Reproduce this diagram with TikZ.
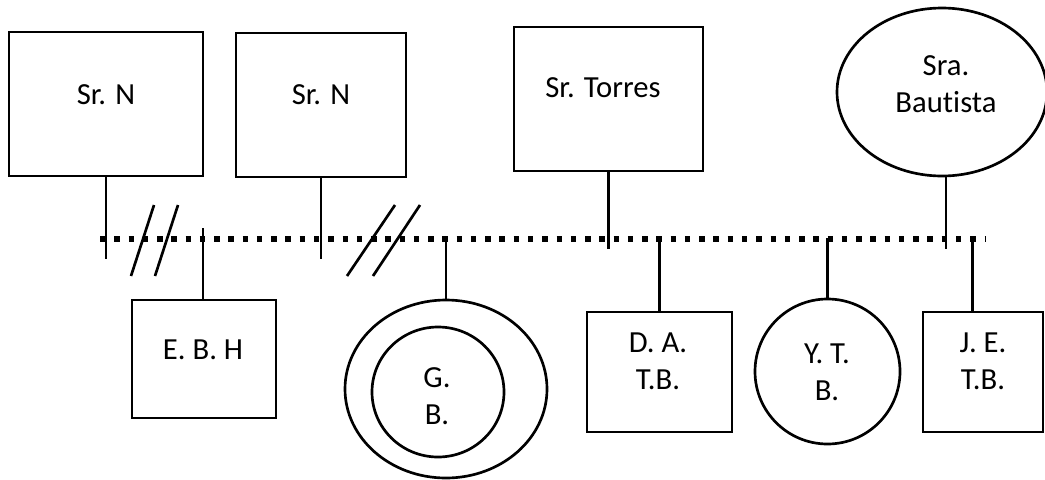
\documentclass[tikz,border=0pt]{standalone}
\usepackage{fontspec}
\setmainfont{Carlito}[Ligatures={NoCommon}]
\usepackage{tikz}
\usetikzlibrary{shapes.geometric}

\begin{document}
\begin{tikzpicture}[x=0.75pt,y=-0.75pt,
  male/.style={draw,rectangle,line width=2pt,inner sep=0pt},
  female/.style={draw,ellipse,line width=2pt,inner sep=0pt},
  tag/.style={inner sep=0pt,align=center,font=\fontsize{23}{28}\selectfont},
  link/.style={line width=2pt},
  union/.style={line width=4.1pt,dash pattern=on 4.1pt off 6.6pt}]
\useasboundingbox (0,0) rectangle (1045,479);

\node[male,minimum width=145.5pt,minimum height=108pt] (srn1) at (106,104) {};
\node[tag] (srn1t) at (106,95) {Sr. N};
\node[male,minimum width=127.5pt,minimum height=108pt] (srn2) at (321,105) {};
\node[tag] (srn2t) at (321,95) {Sr. N};
\node[male,minimum width=141.75pt,minimum height=108pt] (torres) at (608.5,99) {};
\node[tag] (torrest) at (603,88) {Sr. Torres};
\node[female,minimum width=157.5pt,minimum height=126pt] (bautista) at (942,92) {};
\node[tag] (bautistat) at (946,84) {Sra.\\Baut\kern0pt ista};

\coordinate (ul) at (100,239);
\coordinate (ur) at (986,239);
\draw[union] (ul) -- (ur);

\draw[link] (srn1.south) -- ++(0,82);
\draw[link] (srn2.south) -- ++(0,81);
\draw[link] (torres.south) -- ++(0,77);
\draw[link] ([xshift=3pt]bautista.south) -- ++(0,72);

\draw[link] (154,205) -- (131,276);
\draw[link] (178,205) -- (155,276);
\draw[link] (395,205) -- (347,276);
\draw[link] (420,205) -- (373,276);

\node[male,minimum width=108pt,minimum height=88.5pt] (ebh) at (204,359) {};
\node[tag] (ebht) at (203,350) {E. B. H};
\node[female,minimum width=151.5pt,minimum height=133.5pt] (gbo) at (446,389) {};
\node[female,minimum width=99pt,minimum height=97.5pt] (gbi) at (438,392) {};
\node[tag] (gbt) at (437,396) {G.\\B.};
\node[male,minimum width=108.75pt,minimum height=90pt] (dat) at (659.5,372) {};
\node[tag] (datt) at (658,361) {D. A.\\T.B.};
\node[female,minimum width=108.75pt,minimum height=108.75pt] (ytb) at (827.5,371.5) {};
\node[tag] (ytbt) at (827,372.5) {Y. T.\\B.};
\node[male,minimum width=90pt,minimum height=90pt] (jet) at (983,372) {};
\node[tag] (jett) at (983,361) {J. E.\\T.B.};

\draw[link] ([xshift=-0.75pt]ebh.north) -- ++(0,-71);
\draw[link] (gbo.north) -- ++(0,-59);
\draw[link] (dat.north) -- ++(0,-73);
\draw[link] (ytb.north) -- ++(0,-60);
\draw[link] ([xshift=-8pt]jet.north) -- ++(0,-75);

\end{tikzpicture}
\end{document}
